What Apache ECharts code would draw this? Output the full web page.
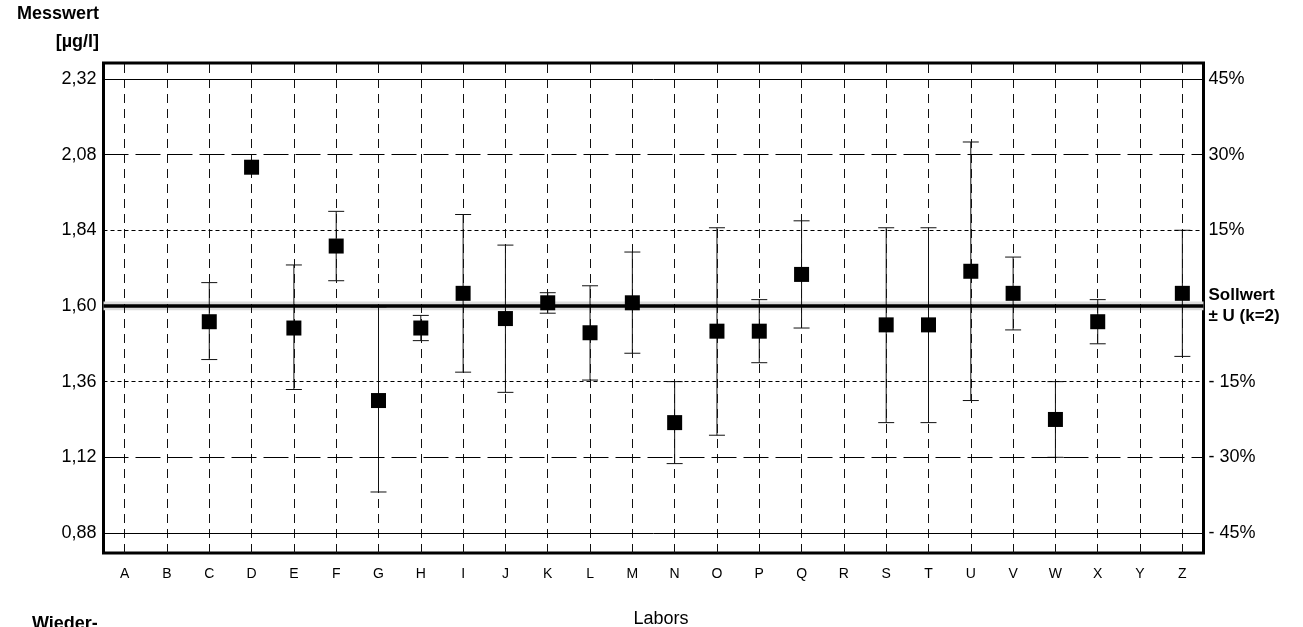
<!DOCTYPE html>
<html>
<head>
<meta charset="utf-8">
<script src="https://cdn.jsdelivr.net/npm/echarts@6/dist/echarts.min.js"></script>
<style>
html,body{margin:0;padding:0;background:#fff;}
#chart{width:1303px;height:627px;}
</style>
</head>
<body>
<div id="chart"></div>
<script>
// ---- data ----
var categories = ['A','B','C','D','E','F','G','H','I','J','K','L','M','N','O','P','Q','R','S','T','U','V','W','X','Y','Z'];
var values = [null,null,1.55,2.04,1.53,1.79,1.30,1.53,1.64,1.56,1.61,1.515,1.61,1.23,1.52,1.52,1.70,null,1.54,1.54,1.71,1.64,1.24,1.55,null,1.64];
var lower  = [null,null,1.43,null,1.335,1.68,1.01,1.49,1.39,1.326,1.577,1.365,1.45,1.10,1.19,1.42,1.53,null,1.23,1.23,1.30,1.524,1.12,1.48,null,1.44];
var upper  = [null,null,1.674,null,1.73,1.90,1.597,1.57,1.89,1.793,1.642,1.664,1.771,1.36,1.848,1.62,1.87,null,1.848,1.848,2.12,1.755,1.36,1.62,null,1.84];
var sollwert = 1.60;
var uBand = [1.586, 1.614];
var tickValues = [0.88, 1.12, 1.36, 1.60, 1.84, 2.08, 2.32];
var rightLabels = ['- 45%', '- 30%', '- 15%', 'Sollwert\n± U (k=2)', '15%', '30%', '45%'];

var FONT = "'Liberation Sans', Arial, Helvetica, sans-serif";
var NARROW = "'Liberation Sans Narrow', 'Arial Narrow', 'Liberation Sans', Arial, sans-serif";

var errData = [];
categories.forEach(function (c, i) {
  if (lower[i] != null && upper[i] != null) errData.push([i, lower[i], upper[i]]);
});

var hStyles = {
  0.88: {type: 'solid', width: 1},
  1.12: {type: [25, 7], width: 1},
  1.36: {type: [4, 3], width: 1},
  1.84: {type: [4, 3], width: 1},
  2.08: {type: [25, 7], width: 1},
  2.32: {type: 'solid', width: 1}
};
var hLines = tickValues.filter(function (v) { return v !== sollwert; }).map(function (v) {
  return {yAxis: v, lineStyle: {color: '#000', type: hStyles[v].type, width: hStyles[v].width}};
});
var vLines = categories.map(function (c) { return {xAxis: c}; });

var chart = echarts.init(document.getElementById('chart'), null, {renderer: 'canvas'});
var option = {
  animation: false,
  backgroundColor: '#fff',
  grid: {left: 103.5, right: 99.5, top: 63, bottom: 74, show: true, borderColor: '#000', borderWidth: 3, backgroundColor: 'transparent', containLabel: false},
  xAxis: {
    type: 'category', data: categories, boundaryGap: true,
    axisLine: {show: false}, axisTick: {show: false}, splitLine: {show: false},
    axisLabel: {fontFamily: NARROW, fontSize: 14, color: '#000', margin: 14, interval: 0}
  },
  yAxis: [{
    type: 'value', min: 0.8165, max: 2.3705, position: 'left',
    axisLine: {show: false}, axisTick: {show: false}, splitLine: {show: false},
    axisLabel: {
      customValues: tickValues, fontFamily: FONT, fontSize: 18, color: '#000', margin: 7,
      formatter: function (v) { return v.toFixed(2).replace('.', ','); }
    }
  }, {
    type: 'value', min: 0.8165, max: 2.3705, position: 'right',
    axisLine: {show: false}, axisTick: {show: false}, splitLine: {show: false},
    axisLabel: {
      customValues: tickValues, fontFamily: FONT, fontSize: 18, color: '#000', margin: 5,
      formatter: function (v) {
        var idx = -1;
        tickValues.forEach(function (t, i) { if (Math.abs(t - v) < 1e-6) idx = i; });
        if (idx < 0) return '';
        var s = rightLabels[idx];
        if (s.indexOf('\n') >= 0) return s.split('\n').map(function (p) { return '{b|' + p + '}'; }).join('\n');
        return '{n|' + s + '}';
      },
      rich: {
        b: {fontFamily: FONT, fontSize: 17, fontWeight: 'bold', color: '#000', lineHeight: 21},
        n: {fontFamily: FONT, fontSize: 18, color: '#000'}
      }
    }
  }],
  series: [
    {
      type: 'line', data: [], silent: true, z: 1,
      markArea: {silent: true, itemStyle: {color: '#dcdcdc'}, data: [[{yAxis: uBand[0]}, {yAxis: uBand[1]}]]}
    },
    {
      type: 'line', data: [], silent: true, z: 2,
      markLine: {silent: true, symbol: 'none', label: {show: false}, animation: false,
        lineStyle: {color: '#111', type: [9, 6], width: 1}, data: vLines}
    },
    {
      type: 'line', data: [], silent: true, z: 3,
      markLine: {silent: true, symbol: 'none', label: {show: false}, animation: false,
        data: hLines.concat([{yAxis: sollwert, lineStyle: {color: '#000', type: 'solid', width: 3.5}}])}
    },
    {
      type: 'custom', z: 4, silent: true, data: errData,
      renderItem: function (params, api) {
        var top = api.coord([api.value(0), api.value(2)]);
        var bot = api.coord([api.value(0), api.value(1)]);
        var hw = 8;
        var st = {stroke: '#111', lineWidth: 1};
        return {type: 'group', children: [
          {type: 'line', shape: {x1: top[0], y1: top[1], x2: bot[0], y2: bot[1]}, style: st},
          {type: 'line', shape: {x1: top[0] - hw, y1: top[1], x2: top[0] + hw, y2: top[1]}, style: st},
          {type: 'line', shape: {x1: bot[0] - hw, y1: bot[1], x2: bot[0] + hw, y2: bot[1]}, style: st}
        ]};
      }
    },
    {
      type: 'scatter', z: 5, silent: true, data: values,
      symbol: 'rect', symbolSize: 15, itemStyle: {color: '#000', opacity: 1}
    }
  ],
  graphic: [
    {type: 'text', x: 99, y: 14, style: {text: 'Messwert', fontFamily: FONT, fontSize: 18, fontWeight: 'bold', fill: '#000', textAlign: 'right', textVerticalAlign: 'middle'}},
    {type: 'text', x: 99, y: 42, style: {text: '[µg/l]', fontFamily: FONT, fontSize: 18, fontWeight: 'bold', fill: '#000', textAlign: 'right', textVerticalAlign: 'middle'}},
    {type: 'text', x: 661, y: 619, style: {text: 'Labors', fontFamily: FONT, fontSize: 18, fill: '#000', textAlign: 'center', textVerticalAlign: 'middle'}},
    {type: 'text', x: 32, y: 615, style: {text: 'Wieder-', fontFamily: FONT, fontSize: 18, fontWeight: 'bold', fill: '#000', textAlign: 'left', textVerticalAlign: 'top'}}
  ]
};
chart.setOption(option);
</script>
</body>
</html>
